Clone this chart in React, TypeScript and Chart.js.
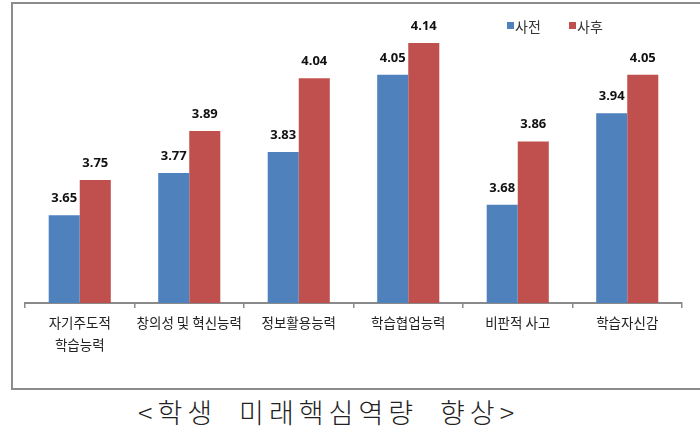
import React, { useEffect, useRef } from "react";
import { Chart, registerables } from "chart.js";

Chart.register(...registerables);

const categories: (string | string[])[] = [
  ["자기주도적", "학습능력"],
  "창의성 및 혁신능력",
  "정보활용능력",
  "학습협업능력",
  "비판적 사고",
  "학습자신감",
];
const seriesNames = ["사전", "사후"];
const beforeValues = [3.65, 3.77, 3.83, 4.05, 3.68, 3.94];
const afterValues = [3.75, 3.89, 4.04, 4.14, 3.86, 4.05];
const colors = ["#4F81BD", "#C0504D"];
const yMin = 3.4;
const yMax = 4.2;
const titleText = "<학생  미래핵심역량  향상>";

const KR = '"Noto Sans CJK KR", "Noto Sans", sans-serif';

const valueLabels = {
  id: "valueLabels",
  afterDatasetsDraw(chart: any) {
    const ctx = chart.ctx;
    ctx.save();
    ctx.font = 'bold 13px "Noto Sans", "Noto Sans CJK KR", sans-serif';
    ctx.fillStyle = "#111";
    ctx.textAlign = "center";
    ctx.textBaseline = "alphabetic";
    chart.data.datasets.forEach((ds: any, di: number) => {
      const meta = chart.getDatasetMeta(di);
      meta.data.forEach((el: any, i: number) => {
        ctx.fillText(Number(ds.data[i]).toFixed(2), el.x, el.y - 13);
      });
    });
    ctx.restore();
  },
};

const customLegend = {
  id: "customLegend",
  afterDraw(chart: any) {
    const ctx = chart.ctx;
    ctx.save();
    ctx.font = "14px " + KR;
    ctx.textBaseline = "middle";
    ctx.textAlign = "left";
    const starts = [493, 555];
    chart.data.datasets.forEach((ds: any, di: number) => {
      const x = starts[di];
      ctx.fillStyle = ds.backgroundColor;
      ctx.fillRect(x, 16, 7, 7);
      ctx.fillStyle = "#333";
      ctx.fillText(ds.label, x + 8, 21);
    });
    ctx.restore();
  },
};

export default function App() {
  const ref = useRef<HTMLCanvasElement>(null);
  useEffect(() => {
    if (!ref.current) return;
    const chart = new Chart(ref.current, {
      type: "bar",
      data: {
        labels: categories,
        datasets: [
          {
            label: seriesNames[0],
            data: beforeValues,
            backgroundColor: colors[0],
            categoryPercentage: 0.567,
            barPercentage: 1,
          },
          {
            label: seriesNames[1],
            data: afterValues,
            backgroundColor: colors[1],
            categoryPercentage: 0.567,
            barPercentage: 1,
          },
        ],
      },
      options: {
        responsive: false,
        animation: false,
        layout: { padding: { left: 11, right: 18, top: 16, bottom: 0 } },
        scales: {
          y: { display: false, min: yMin, max: yMax },
          x: {
            grid: {
              display: true,
              drawOnChartArea: false,
              drawTicks: true,
              tickLength: 5,
              color: "#8a8a8a",
              lineWidth: 1.5,
            },
            border: { display: true, color: "#8a8a8a", width: 2 },
            ticks: {
              font: { family: KR, size: 13.5, lineHeight: 1.6 },
              color: "#222",
              padding: 4,
              maxRotation: 0,
              autoSkip: false,
            },
            afterFit: (s: any) => {
              s.height = 84;
            },
          },
        },
        plugins: {
          legend: { display: false },
          tooltip: { enabled: false },
        },
      },
      plugins: [valueLabels, customLegend],
    });
    return () => chart.destroy();
  }, []);

  return (
    <div
      style={{
        position: "absolute",
        left: 0,
        top: 0,
        width: 700,
        height: 433,
        overflow: "hidden",
        background: "#fff",
      }}
    >
      <div
        style={{
          position: "absolute",
          left: 11,
          top: 2,
          width: 720,
          height: 388,
          boxSizing: "border-box",
          border: "2px solid #8c8c8c",
        }}
      />
      <canvas
        ref={ref}
        width={686}
        height={381}
        style={{ position: "absolute", left: 14, top: 6, width: 686, height: 381 }}
      />
      <div
        style={{
          position: "absolute",
          left: 138,
          top: 394,
          fontFamily: KR,
          fontSize: 27,
          fontWeight: 300,
          letterSpacing: 5,
          whiteSpace: "pre",
          color: "#222",
          lineHeight: "36px",
        }}
      >
        {titleText}
      </div>
    </div>
  );
}
